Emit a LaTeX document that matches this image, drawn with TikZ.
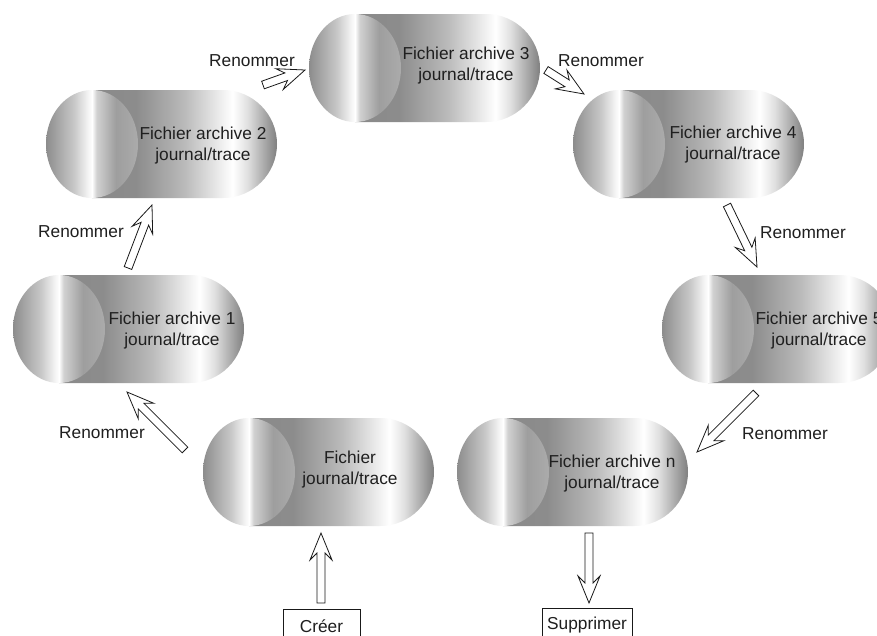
\documentclass[tikz,border=0pt]{standalone}
\usepackage{fontspec}
\setmainfont{Liberation Sans}
\usetikzlibrary{calc}
\pgfdeclarehorizontalshading{bodyshade}{100bp}{color(0bp)=(black!46); color(25bp)=(black!46); color(37bp)=(black!45); color(50bp)=(black!27); color(63bp)=(white); color(67bp)=(black!12); color(75bp)=(black!50); color(100bp)=(black!50)}
\pgfdeclarehorizontalshading{capshade}{100bp}{color(0bp)=(black!45); color(25bp)=(black!45); color(40bp)=(black!22); color(48bp)=(black!4); color(50bp)=(white); color(52.5bp)=(black!18); color(63bp)=(black!38); color(75bp)=(black!33); color(100bp)=(black!33)}
\tikzset{
  celltext/.style={align=center, font=\fontsize{17.3}{21}\selectfont, text=black!88, inner sep=0pt},
  lbl/.style={font=\fontsize{17.3}{21}\selectfont, text=black!88, inner sep=0pt},
  blockarr/.style={draw=black!90, line width=0.8pt, fill=white, line join=miter},
  endbox/.style={draw=black!90, line width=0.8pt, font=\fontsize{17.3}{21}\selectfont, text=black!88, anchor=north, inner ysep=6pt, inner xsep=0pt}
}
\newcommand\cylinder[5]{%
  \shade[shading=bodyshade] (#2+46,#3) -- (#2+177,#3) arc[start angle=-90,end angle=90,radius=54] -- (#2+46,#3+108) -- cycle;
  \shade[shading=capshade] (#2+46,#3+54) ellipse[x radius=46,y radius=54];
  \node[celltext] (#1) at (#4) {#5};
}
\newcommand\blockarrow[2]{%
  \coordinate (ba-j) at ($(#2)!20pt!(#1)$);
  \coordinate (ba-b) at ($(#2)!27pt!(#1)$);
  \draw[blockarr] ($(#1)!4pt!90:(#2)$) -- ($(ba-j)!4pt!90:(#2)$) -- ($(ba-b)!11pt!90:(#2)$) -- (#2) -- ($(ba-b)!11pt!-90:(#2)$) -- ($(ba-j)!4pt!-90:(#2)$) -- ($(#1)!4pt!-90:(#2)$) -- cycle;
}
\begin{document}
\begin{tikzpicture}[x=1pt,y=-1pt]
\useasboundingbox (0,0) rectangle (877,635);
\fill[white] (0,0) rectangle (877,635);

\cylinder{c0}{203}{418}{350,470}{Fichier\\journal/trace}
\cylinder{cn}{457}{418}{612,474}{Fichier archive n\\journal/trace}
\cylinder{c1}{13}{275}{172,331}{Fichier archive 1\\journal/trace}
\cylinder{c2}{46}{90}{203,146}{Fichier archive 2\\journal/trace}
\cylinder{c3}{309}{14}{466,66}{Fichier archive 3\\journal/trace}
\cylinder{c4}{573}{90}{733,145}{Fichier archive 4\\journal/trace}
\cylinder{c5}{662}{275}{819,331}{Fichier archive 5\\journal/trace}

\node[endbox, minimum width=77pt, text height=17pt, text depth=20pt] (creer) at (321.5,609) {Créer};
\node[endbox, minimum width=90pt, text height=15pt, text depth=20pt] (supp) at (587,608) {Supprimer};

\coordinate (a1s) at (321,603); \coordinate (a1e) at (321,533);
\coordinate (a2s) at (589,533); \coordinate (a2e) at (589,603);
\coordinate (a3s) at (185,450); \coordinate (a3e) at (127,392);
\coordinate (a4s) at (128,268); \coordinate (a4e) at (152,205);
\coordinate (a5s) at (263,85);  \coordinate (a5e) at (305,70);
\coordinate (a6s) at (546,70);  \coordinate (a6e) at (584,94);
\coordinate (a7s) at (727,205); \coordinate (a7e) at (757,267);
\coordinate (a8s) at (756,393); \coordinate (a8e) at (697,452);

\blockarrow{a1s}{a1e}
\blockarrow{a2s}{a2e}
\blockarrow{a3s}{a3e}
\blockarrow{a4s}{a4e}
\blockarrow{a5s}{a5e}
\blockarrow{a6s}{a6e}
\blockarrow{a7s}{a7e}
\blockarrow{a8s}{a8e}

\node[lbl] (l3) at (102,433) {Renommer};
\node[lbl] (l4) at (81,232) {Renommer};
\node[lbl] (l5) at (252,61) {Renommer};
\node[lbl] (l6) at (601,61) {Renommer};
\node[lbl] (l7) at (803,233) {Renommer};
\node[lbl] (l8) at (785,434) {Renommer};
\end{tikzpicture}
\end{document}
